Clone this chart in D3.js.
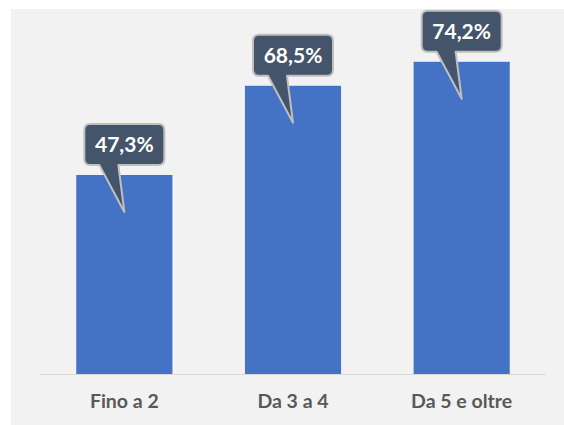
<!DOCTYPE html>
<html>
<head>
<meta charset="utf-8">
<script src="https://cdn.jsdelivr.net/npm/d3@7"></script>
<style>
  body { margin: 0; background: #ffffff; }
  svg { display: block; }
</style>
</head>
<body>
<svg width="564" height="425"></svg>
<script>
// data
var categories = ["Fino a 2", "Da 3 a 4", "Da 5 e oltre"];
var values = [47.3, 68.5, 74.2];
var valueLabels = ["47,3%", "68,5%", "74,2%"];

var svg = d3.select("svg"),
    width = +svg.attr("width"),
    height = +svg.attr("height");

// grey chart panel
svg.append("rect")
    .attr("x", 11)
    .attr("y", 9)
    .attr("width", width - 11)
    .attr("height", height - 9)
    .attr("fill", "#f2f2f2");

var x = d3.scaleBand()
    .domain(categories)
    .range([40, 546])
    .paddingInner(0.43)
    .paddingOuter(0.215);

var y = d3.scaleLinear()
    .domain([0, 80])
    .range([374, 37.4]);

// bars
svg.selectAll(".bar")
    .data(values)
    .enter().append("rect")
    .attr("class", "bar")
    .attr("x", function (d, i) { return x(categories[i]); })
    .attr("y", function (d) { return y(d); })
    .attr("width", x.bandwidth())
    .attr("height", function (d) { return y(0) - y(d); })
    .attr("fill", "#4472c4");

// baseline
svg.append("line")
    .attr("x1", 40).attr("x2", 546)
    .attr("y1", y(0) + 0.5).attr("y2", y(0) + 0.5)
    .attr("stroke", "#d9d9d9")
    .attr("stroke-width", 1);

// category labels
svg.selectAll(".cat")
    .data(categories)
    .enter().append("text")
    .attr("class", "cat")
    .attr("x", function (d) { return x(d) + x.bandwidth() / 2; })
    .attr("y", 408)
    .attr("text-anchor", "middle")
    .style("font-family", "Lato, 'Open Sans', sans-serif")
    .style("font-weight", "bold")
    .style("font-size", "19.5px")
    .style("fill", "#595959")
    .text(function (d) { return d; });

// callout bubbles with the values
var boxW = 80, boxH = 41, r = 6;

var callout = svg.selectAll(".callout")
    .data(values)
    .enter().append("g")
    .attr("class", "callout")
    .attr("transform", function (d, i) {
        return "translate(" + (x(categories[i]) + x.bandwidth() / 2) + "," + y(d) + ")";
    });

callout.append("path")
    .attr("d", function () {
        var top = -10 - boxH, bot = -10, l = -boxW / 2, rr = boxW / 2;
        return "M" + (l + r) + "," + top +
            "H" + (rr - r) + "Q" + rr + "," + top + " " + rr + "," + (top + r) +
            "V" + (bot - r) + "Q" + rr + "," + bot + " " + (rr - r) + "," + bot +
            "H-6L0,37L-25," + bot +
            "H" + (l + r) + "Q" + l + "," + bot + " " + l + "," + (bot - r) +
            "V" + (top + r) + "Q" + l + "," + top + " " + (l + r) + "," + top + "Z";
    })
    .attr("fill", "#44546a")
    .attr("stroke", "#bfbfbf")
    .attr("stroke-width", 2)
    .attr("stroke-linejoin", "round");

callout.append("text")
    .attr("x", 0)
    .attr("y", -10 - boxH / 2 + 7.5)
    .attr("text-anchor", "middle")
    .style("font-family", "Lato, 'Open Sans', sans-serif")
    .style("font-weight", "bold")
    .style("font-size", "21px")
    .style("fill", "#ffffff")
    .text(function (d, i) { return valueLabels[i]; });
</script>
</body>
</html>
